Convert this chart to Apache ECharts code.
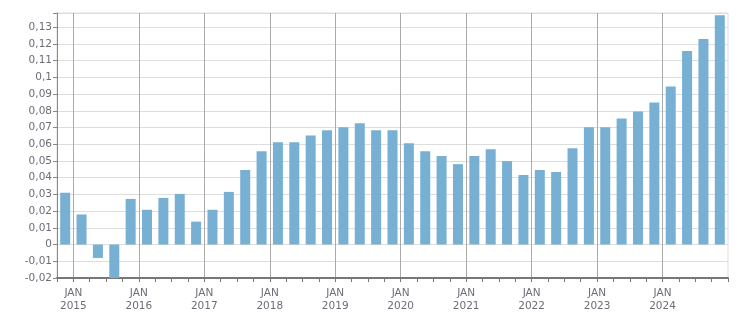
<!DOCTYPE html>
<html>
<head>
<meta charset="utf-8">
<script src="https://cdn.jsdelivr.net/npm/echarts@6/dist/echarts.min.js"></script>
<style>
html,body{margin:0;padding:0;background:#fff;}
#chart{width:751px;height:313px;}
</style>
</head>
<body>
<div id="chart"></div>
<script>
// Quarterly observations (mid-month of Feb/May/Aug/Nov)
var periods = ['2014-11','2015-02','2015-05','2015-08','2015-11','2016-02','2016-05','2016-08','2016-11',
  '2017-02','2017-05','2017-08','2017-11','2018-02','2018-05','2018-08','2018-11',
  '2019-02','2019-05','2019-08','2019-11','2020-02','2020-05','2020-08','2020-11',
  '2021-02','2021-05','2021-08','2021-11','2022-02','2022-05','2022-08','2022-11',
  '2023-02','2023-05','2023-08','2023-11','2024-02','2024-05','2024-08','2024-11'];
var values = [0.031,0.018,-0.008,-0.022,0.0273,0.0208,0.0279,0.0303,0.0137,
  0.0208,0.0315,0.0446,0.0558,0.0612,0.0612,0.0653,0.0683,
  0.0701,0.0725,0.0683,0.0683,0.0606,0.0558,0.0529,0.0481,
  0.0529,0.0570,0.0499,0.0416,0.0446,0.0434,0.0576,0.0701,
  0.0701,0.0754,0.0796,0.085,0.0945,0.1158,0.123,0.1372];
var yearLabels = [2015,2016,2017,2018,2019,2020,2021,2022,2023,2024];
var monthLabel = 'JAN';

function toYearFrac(p){
  var parts = p.split('-');
  return parseInt(parts[0],10) + (parseInt(parts[1],10) - 0.5) / 12;
}
var seriesData = periods.map(function(p,i){ return [toYearFrac(p), values[i]]; });

var labelColor = '#6e6c78';
var font = 'DejaVu Sans';
var chart = echarts.init(document.getElementById('chart'), null, {renderer:'canvas'});
chart.setOption({
  animation:false,
  grid:{left:57,right:23,top:13,bottom:33,show:true,borderColor:'#dddddd',borderWidth:1,backgroundColor:'transparent'},
  xAxis:{
    type:'value', min:2014.75, max:2025, interval:0.25,
    axisLine:{show:true,onZero:false,lineStyle:{color:'#777777',width:2}},
    axisTick:{show:true,length:4,lineStyle:{color:'#777777'}},
    axisLabel:{
      margin:9, color:labelColor, fontFamily:font, fontSize:10.5, lineHeight:13,
      showMinLabel:true, showMaxLabel:true,
      formatter:function(v){
        var r = Math.round(v);
        if (Math.abs(v - r) < 1e-6 && yearLabels.indexOf(r) >= 0) return monthLabel + '\n' + r;
        return '';
      }
    },
    splitLine:{show:true,showMaxLine:false,lineStyle:{color:['transparent','#aaaaaa','transparent','transparent'],width:1}}
  },
  yAxis:{
    type:'value', min:-0.02, max:0.1385, interval:0.01,
    axisLine:{show:true,onZero:false,lineStyle:{color:'#888888',width:1}},
    axisTick:{show:true,length:4,lineStyle:{color:'#888888'}},
    axisLabel:{
      margin:5, color:labelColor, fontFamily:font, fontSize:10.5,
      formatter:function(v){
        var c = v*100;
        if (Math.abs(c - Math.round(c)) > 1e-6) return '';
        return String(parseFloat(v.toFixed(2))).replace('.', ',');
      }
    },
    splitLine:{show:true,lineStyle:{color:'#dddddd',width:1}}
  },
  series:[{
    type:'bar',
    data:seriesData, barWidth:10, clip:true,
    itemStyle:{color:'#77b0d3'}
  }]
});
</script>
</body>
</html>
